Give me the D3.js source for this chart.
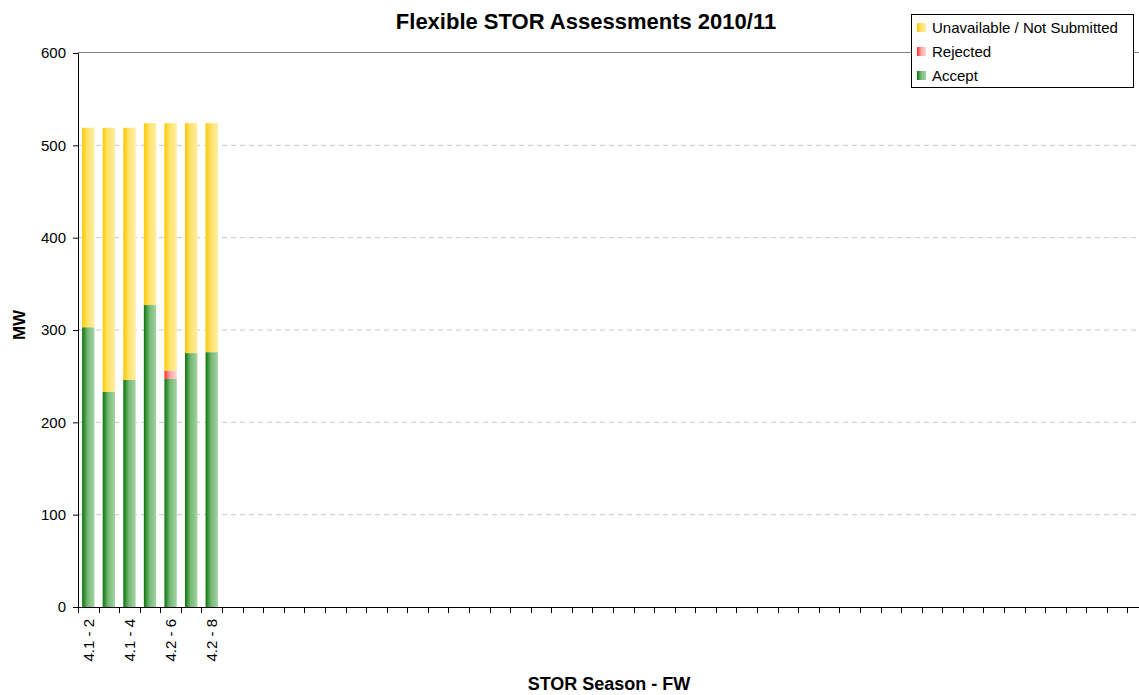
<!DOCTYPE html>
<html>
<head>
<meta charset="utf-8">
<script src="https://cdn.jsdelivr.net/npm/d3@7"></script>
<style>
  body { margin: 0; background: #fff; }
  svg { display: block; font-family: "Liberation Sans", Arial, sans-serif; }
</style>
</head>
<body>
<svg id="chart" width="1139" height="695"></svg>
<script>
// 52 STOR weeks, only the first seven have data
let weeks = ['4.1 - 2', '4.1 - 3', '4.1 - 4', '4.1 - 5', '4.2 - 6', '4.2 - 7', '4.2 - 8'];
for (let i = weeks.length; i < 52; ++i) weeks.push('w' + i);
let tickLabels = ['4.1 - 2', '4.1 - 4', '4.2 - 6', '4.2 - 8'];

let accept = [303, 233, 246, 327, 247, 275, 276];
let rejected = [0, 0, 0, 0, 9, 0, 0];
let unavailable = [216, 286, 273, 197, 268, 249, 248];

let yTicks = [0, 100, 200, 300, 400, 500, 600];

let series = [
  {name: 'Accept', values: accept, grad: 'gGreen'},
  {name: 'Rejected', values: rejected, grad: 'gRed'},
  {name: 'Unavailable / Not Submitted', values: unavailable, grad: 'gYellow'}
];

let margin = {top: 53, right: 0, bottom: 88, left: 78};
let plotW = 1070, plotH = 554;

let svg = d3.select('#chart');
let defs = svg.append('defs');
let grads = [
  ['gGreen', '#0b750b', '#a4d4a4'],
  ['gRed', '#ff2a2a', '#ffd6d6'],
  ['gYellow', '#ffc800', '#ffeea0']
];
grads.forEach(([id, a, b]) => {
  let g = defs.append('linearGradient').attr('id', id)
    .attr('x1', 0).attr('x2', 1).attr('y1', 0).attr('y2', 0);
  g.append('stop').attr('offset', '0%').attr('stop-color', a);
  g.append('stop').attr('offset', '45%').attr('stop-color', d3.interpolateRgb(a, b)(0.7));
  g.append('stop').attr('offset', '100%').attr('stop-color', b);
});

let x = d3.scaleBand().domain(weeks).range([0, plotW]).paddingInner(0.4).paddingOuter(0.2);
let xTick = d3.scaleBand().domain(weeks).range([0, plotW]);
let y = d3.scaleLinear().domain([0, 600]).range([plotH, 0]);

let g = svg.append('g').attr('transform', 'translate(' + margin.left + ',' + margin.top + ')');

// gridlines
g.selectAll('.grid').data(yTicks.filter(t => t > 0 && t < 600)).enter()
  .append('line')
  .attr('x1', 0).attr('x2', plotW)
  .attr('y1', d => y(d)).attr('y2', d => y(d))
  .style('stroke', '#c8c8c8').style('stroke-dasharray', '5,4');

// plot top border
g.append('line').attr('x1', 0).attr('x2', plotW).attr('y1', -0.5).attr('y2', -0.5)
  .style('stroke', '#808080');

// stacked bars
let stack = [];
weeks.slice(0, accept.length).forEach((w, i) => {
  let base = 0;
  series.forEach(s => {
    let v = s.values[i];
    if (v > 0) stack.push({week: w, y0: base, y1: base + v, grad: s.grad});
    base += v;
  });
});

g.selectAll('.bar').data(stack).enter()
  .append('rect')
  .attr('x', d => x(d.week))
  .attr('width', x.bandwidth())
  .attr('y', d => y(d.y1))
  .attr('height', d => y(d.y0) - y(d.y1))
  .style('fill', d => 'url(#' + d.grad + ')');

// y axis
let yAxis = g.append('g')
  .call(d3.axisLeft(y).tickValues(yTicks).tickSize(5).tickPadding(7));
yAxis.select('.domain').attr('d', 'M-5,0.5H0.5V' + (plotH + 0.5));
yAxis.selectAll('text').style('font-size', '15px').style('fill', '#000');
yAxis.selectAll('line').style('stroke', '#000');
yAxis.select('.domain').style('stroke', '#000');

// x axis
let xAxisG = g.append('g').attr('transform', 'translate(0,' + plotH + ')');
xAxisG.append('line').attr('x1', 0).attr('x2', plotW).attr('y1', 0.5).attr('y2', 0.5)
  .style('stroke', '#000');
xAxisG.selectAll('.tick').data(weeks).enter()
  .append('line')
  .attr('x1', d => Math.round(xTick(d)) + 0.5).attr('x2', d => Math.round(xTick(d)) + 0.5)
  .attr('y1', 0).attr('y2', 6)
  .style('stroke', '#000');
xAxisG.selectAll('.lbl').data(tickLabels).enter()
  .append('text')
  .attr('transform', d => 'translate(' + (x(d) + x.bandwidth() / 2 + 5.5) + ',12) rotate(-90)')
  .attr('text-anchor', 'end')
  .style('font-size', '15px')
  .text(d => d);

// titles
svg.append('text').attr('x', 586).attr('y', 29).attr('text-anchor', 'middle')
  .style('font-size', '22px').style('font-weight', 'bold').text('Flexible STOR Assessments 2010/11');
svg.append('text').attr('x', 609).attr('y', 690).attr('text-anchor', 'middle')
  .style('font-size', '18px').style('font-weight', 'bold').text('STOR Season - FW');
svg.append('text').attr('transform', 'translate(25,325) rotate(-90)').attr('text-anchor', 'middle')
  .style('font-size', '17px').style('font-weight', 'bold').text('MW');

// legend
let legend = svg.append('g').attr('transform', 'translate(911,14)');
legend.append('rect').attr('x', 0.5).attr('y', 0.5).attr('width', 222).attr('height', 73)
  .style('fill', '#fff').style('stroke', '#000');
series.slice().reverse().forEach((s, i) => {
  let row = legend.append('g').attr('transform', 'translate(6,' + (13 + i * 24) + ')');
  row.append('rect').attr('x', 0).attr('y', -4).attr('width', 9).attr('height', 9)
    .style('fill', 'url(#' + s.grad + ')');
  row.append('text').attr('x', 15).attr('y', 6).style('font-size', '15px').text(s.name);
});
</script>
</body>
</html>
